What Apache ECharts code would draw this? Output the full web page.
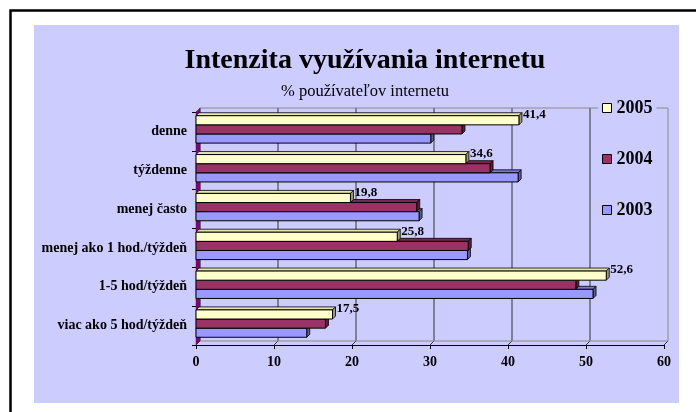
<!DOCTYPE html>
<html>
<head>
<meta charset="utf-8">
<script src="https://cdn.jsdelivr.net/npm/echarts@6/dist/echarts.min.js"></script>
<style>
html, body { margin: 0; padding: 0; background: #fff; }
#chart { width: 696px; height: 412px; }
</style>
</head>
<body>
<div id="chart"></div>
<script>
// data
var categories = ['denne', 'týždenne', 'menej často', 'menej ako 1 hod./týždeň', '1-5 hod/týždeň', 'viac ako 5 hod/týždeň'];
var years = ['2005', '2004', '2003'];
var data2005 = [41.4, 34.6, 19.8, 25.8, 52.6, 17.5];
var data2004 = [34.1, 37.7, 28.3, 34.9, 48.7, 16.6];
var data2003 = [30.1, 41.3, 28.6, 34.8, 50.9, 14.2];
var xTicks = [0, 10, 20, 30, 40, 50, 60];

var FONT = '"Liberation Serif", "Times New Roman", serif';
var DEPTH = 3; // bar depth
var WALL = 4; // wall depth

var chart = echarts.init(document.getElementById('chart'));

// bar with a little 3D side, like the old office charts
function makeBar(idx, color, top, side, showLabel) {
	return function (params, api) {
		var cat = api.value(0);
		var val = api.value(1);
		var band = api.size([0, 1])[1];
		var h = band * 0.235;
		var p0 = api.coord([0, cat]);
		var p1 = api.coord([val, cat]);
		var y = p0[1] - 1.5 * h - 2 + idx * h;
		var x0 = p0[0], x1 = p1[0];
		var kids = [
			{ type: 'polygon', shape: { points: [[x0, y], [x0 + DEPTH, y - DEPTH], [x1 + DEPTH, y - DEPTH], [x1, y]] }, style: { fill: top, stroke: '#000', lineWidth: 0.8 } },
			{ type: 'polygon', shape: { points: [[x1, y], [x1 + DEPTH, y - DEPTH], [x1 + DEPTH, y + h - DEPTH], [x1, y + h]] }, style: { fill: side, stroke: '#000', lineWidth: 0.8 } },
			{ type: 'rect', shape: { x: x0, y: y, width: x1 - x0, height: h }, style: { fill: color, stroke: '#000', lineWidth: 1 } },
		];
		if (showLabel) {
			kids.push({
				type: 'text',
				style: {
					text: String(val).replace('.', ','),
					x: x1 + DEPTH + 1,
					y: y - 1,
					font: 'bold 13px ' + FONT,
					fill: '#000',
					align: 'left',
					verticalAlign: 'middle',
				},
			});
		}
		return { type: 'group', children: kids };
	};
}

// back wall, floor and side wall
function frameItem(params, api) {
	var cs = params.coordSys;
	var top = cs.y, bottom = cs.y + cs.height;
	var D = WALL;
	var left = api.coord([xTicks[0], 0])[0];
	var right = api.coord([xTicks[xTicks.length - 1], 0])[0];
	var kids = [];
	xTicks.forEach(function (v) {
		var x = api.coord([v, 0])[0];
		kids.push({ type: 'line', shape: { x1: x + D, y1: top - D, x2: x + D, y2: bottom - D }, style: { stroke: v === xTicks[xTicks.length - 1] ? '#888' : '#333', lineWidth: 1 } });
		kids.push({ type: 'line', shape: { x1: x, y1: bottom, x2: x + D, y2: bottom - D }, style: { stroke: '#333', lineWidth: 1 } });
	});
	kids.push({ type: 'line', shape: { x1: left + D, y1: top - D, x2: right + D, y2: top - D }, style: { stroke: '#888', lineWidth: 1 } });
	kids.push({ type: 'line', shape: { x1: left + D, y1: bottom - D, x2: right + D, y2: bottom - D }, style: { stroke: '#888', lineWidth: 1 } });
	kids.push({ type: 'polygon', shape: { points: [[left, top], [left + D, top - D], [left + D, bottom - D], [left, bottom]] }, style: { fill: '#800080', stroke: '#333', lineWidth: 0.5 } });
	return { type: 'group', children: kids };
}

function toPairs(arr) {
	return arr.map(function (v, i) {
		return [i, v];
	});
}

var option = {
	animation: false,
	textStyle: { fontFamily: FONT },
	graphic: [
		{ type: 'rect', left: 34, top: 25, shape: { width: 645, height: 378 }, style: { fill: '#ccccff' }, z: -10 },
		{ type: 'rect', left: 8, top: 8, shape: { width: 700, height: 420 }, style: { fill: 'none', stroke: '#000', lineWidth: 2.5 }, z: -9 },
	],
	title: {
		text: 'Intenzita využívania internetu',
		subtext: '% používateľov internetu',
		left: 360,
		top: 42,
		textAlign: 'center',
		itemGap: 8,
		textStyle: { fontFamily: FONT, fontSize: 28, fontWeight: 'bold', color: '#000' },
		subtextStyle: { fontFamily: FONT, fontSize: 16.5, color: '#000' },
	},
	legend: {
		data: years,
		orient: 'vertical',
		left: 598,
		top: 95,
		itemGap: 33,
		itemWidth: 9,
		itemHeight: 9,
		icon: 'rect',
		padding: [4, 4, 4, 4],
		backgroundColor: '#ccccff',
		itemStyle: { borderColor: '#000', borderWidth: 1 },
		textStyle: { fontFamily: FONT, fontSize: 18, fontWeight: 'bold', color: '#000' },
	},
	grid: {
		left: 196,
		right: 32,
		top: 112,
		bottom: 67,
	},
	xAxis: {
		type: 'value',
		min: 0,
		max: 60,
		interval: 10,
		axisLine: { show: true, lineStyle: { color: '#000', width: 1 } },
		axisTick: { show: true, length: 4, lineStyle: { color: '#000' } },
		axisLabel: { margin: 10, fontFamily: FONT, fontSize: 14, fontWeight: 'bold', color: '#000' },
		splitLine: { show: false },
	},
	yAxis: {
		type: 'category',
		data: categories,
		inverse: true,
		axisLine: { show: true, lineStyle: { color: '#000', width: 1 } },
		axisTick: { show: true, length: 4, lineStyle: { color: '#000' } },
		axisLabel: { margin: 9, fontFamily: FONT, fontSize: 14, fontWeight: 'bold', color: '#000' },
	},
	series: [
		{
			name: 'frame',
			type: 'custom',
			renderItem: frameItem,
			data: [[0, 0]],
			z: 1,
			silent: true,
		},
		{
			name: '2005',
			type: 'custom',
			itemStyle: { color: '#ffffcc' },
			renderItem: makeBar(0, '#ffffcc', '#e6e6b0', '#999977', true),
			encode: { x: 1, y: 0 },
			data: toPairs(data2005),
			z: 5,
		},
		{
			name: '2004',
			type: 'custom',
			itemStyle: { color: '#993366' },
			renderItem: makeBar(1, '#993366', '#7a2852', '#5c1e3d', false),
			encode: { x: 1, y: 0 },
			data: toPairs(data2004),
			z: 4,
		},
		{
			name: '2003',
			type: 'custom',
			itemStyle: { color: '#9999ff' },
			renderItem: makeBar(2, '#9999ff', '#7a7acc', '#5c5c99', false),
			encode: { x: 1, y: 0 },
			data: toPairs(data2003),
			z: 3,
		},
	],
};
chart.setOption(option);
</script>
</body>
</html>
